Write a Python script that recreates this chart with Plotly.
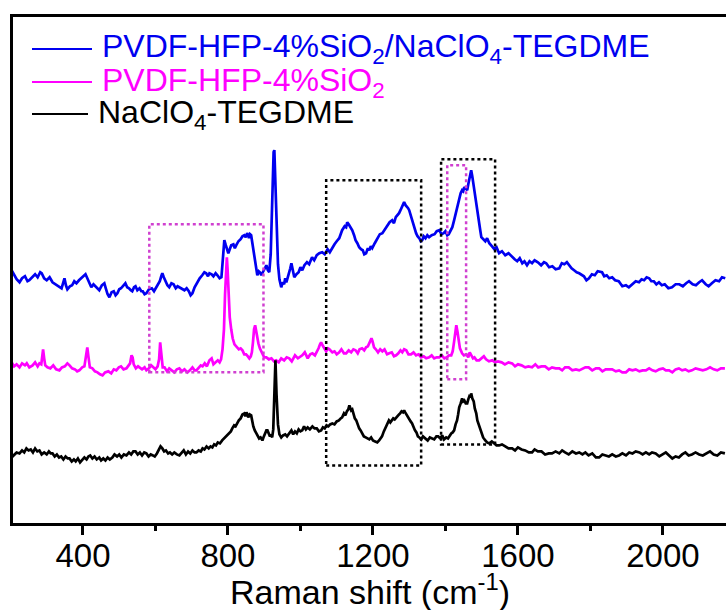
import plotly.graph_objects as go

# ---------------- data: Raman shift (cm-1) and offset intensity (a.u.) ----------------
blue_x = [203, 210, 217, 225, 232, 240, 247, 252, 260, 268, 275, 282, 286, 293, 300, 308, 316, 325,
          333, 341, 345, 349, 353, 357, 364, 370, 376, 382, 389, 395, 401, 407, 412, 417, 423, 429,
          435, 440, 445, 452, 459, 463, 468, 473, 479, 485, 490, 495, 500, 505, 511, 517, 522, 527,
          532, 536, 541, 545, 550, 556, 561, 565, 570, 575, 582, 590, 596, 603, 608, 612, 616, 619,
          623, 628, 633, 638, 644, 650, 656, 661, 666, 673, 680, 686, 692, 697, 702, 708, 715, 722,
          729, 735, 740, 745, 749, 755, 760, 766, 771, 777, 782, 786, 790, 794, 797, 801, 804, 809,
          815, 819, 823, 829, 835, 840, 845, 849, 853, 856, 858, 861, 864, 868, 872, 876, 881, 885,
          888, 892, 895, 899, 902, 906, 910, 914, 918, 922, 926, 928, 931, 934, 938, 942, 947, 951,
          955, 958, 961, 965, 968, 972, 975, 979, 983, 989, 995, 1000, 1005, 1011, 1018, 1024, 1032,
          1038, 1045, 1052, 1060, 1067, 1075, 1081, 1088, 1094, 1100, 1107, 1115, 1122, 1126, 1129,
          1133, 1136, 1140, 1143, 1148, 1152, 1157, 1162, 1167, 1172, 1176, 1181, 1186, 1190, 1194,
          1198, 1205, 1212, 1219, 1226, 1233, 1240, 1246, 1253, 1258, 1263, 1268, 1272, 1276, 1280,
          1283, 1286, 1290, 1293, 1297, 1300, 1305, 1310, 1314, 1319, 1323, 1328, 1332, 1336, 1340,
          1345, 1350, 1355, 1362, 1370, 1376, 1383, 1389, 1395, 1400, 1405, 1409, 1412, 1416, 1419,
          1424, 1428, 1433, 1438, 1442, 1446, 1449, 1452, 1456, 1460, 1463, 1466, 1469, 1471, 1474,
          1477, 1481, 1485, 1489, 1492, 1496, 1499, 1504, 1510, 1515, 1521, 1528, 1535, 1541, 1548,
          1556, 1565, 1574, 1584, 1591, 1598, 1605, 1612, 1618, 1625, 1632, 1639, 1646, 1655, 1664,
          1672, 1678, 1686, 1695, 1704, 1714, 1721, 1728, 1735, 1741, 1748, 1755, 1762, 1769, 1776,
          1782, 1789, 1796, 1804, 1812, 1820, 1832, 1838, 1845, 1852, 1860, 1868, 1878, 1888, 1898,
          1906, 1915, 1925, 1934, 1941, 1948, 1955, 1962, 1968, 1975, 1982, 1989, 1997, 2005, 2015,
          2025, 2035, 2045, 2055, 2064, 2072, 2082, 2091, 2100, 2108, 2118, 2126, 2135, 2145, 2155,
          2163, 2172]
blue_y = [254, 249, 245, 242, 246, 248, 243, 244, 247, 250, 247, 252, 251, 246, 244, 247, 242, 240,
          238, 236, 241, 246, 239, 235, 238, 239, 243, 241, 244, 246, 249, 250, 246, 242, 237, 240,
          238, 236, 234, 239, 241, 236, 230, 227, 232, 233, 229, 231, 235, 236, 239, 241, 237, 236,
          234, 233, 237, 238, 234, 236, 233, 233, 230, 231, 235, 236, 233, 237, 240, 243, 248, 251,
          247, 243, 239, 237, 241, 240, 236, 238, 237, 235, 234, 236, 233, 229, 231, 237, 242, 246,
          249, 252, 251, 248, 251, 250, 248, 251, 249, 246, 247, 262, 284, 279, 276, 271, 274, 279,
          280, 276, 279, 283, 285, 288, 289, 287, 291, 289, 286, 290, 289, 280, 270, 258, 249, 253,
          252, 249, 251, 255, 256, 259, 254, 252, 270, 330, 372, 374, 340, 300, 260, 245, 237, 242,
          240, 246, 242, 247, 250, 256, 261, 252, 247, 250, 252, 257, 254, 259, 262, 260, 267,
          264, 269, 271, 272, 270, 275, 272, 277, 280, 283, 286, 294, 298, 297, 302,
          300, 298, 296, 294, 289, 284, 281, 277, 275, 274, 270, 271, 276, 274, 278,
          276, 281, 285, 290, 291, 295, 298, 302, 304, 301, 307, 309, 311, 314, 318,
          321, 322, 319, 318, 316, 314, 308, 302, 296, 291, 288, 286, 283, 284, 288,
          286, 289, 287, 289, 290, 293, 294, 290, 291, 293, 289, 290, 292, 295, 297,
          304, 310, 320, 327, 331, 334, 333, 337, 335, 334, 340, 345, 350, 354, 348,
          340, 332, 324, 313, 305, 294, 287, 285, 283, 286, 281, 278, 275, 277, 271,
          273, 269, 271, 267, 265, 263, 266, 261, 263, 259, 263, 261, 264, 262, 259,
          262, 261, 257, 258, 255, 256, 261, 260, 262, 259, 256, 254, 252, 251, 249,
          248, 244, 246, 250, 249, 253, 252, 248, 249, 246, 247, 244, 243, 238, 239,
          237, 240, 243, 242, 245, 244, 247, 246, 243, 243, 240, 242, 239, 240, 236,
          237, 240, 240, 238, 241, 243, 240, 239, 242, 244, 240, 238, 241, 244, 243,
          247, 246]

pink_x = [203, 210, 217, 225, 232, 240, 245, 252, 261, 268, 275, 280, 285, 288, 290, 293, 296, 302,
          310, 318, 326, 335, 342, 350, 357, 363, 370, 378, 384, 390, 398, 404, 408, 412, 415, 419,
          426, 433, 440, 447, 454, 461, 470, 478, 485, 492, 499, 505, 512, 520, 526, 530, 534, 537,
          540, 546, 552, 556, 563, 570, 575, 582, 588, 594, 600, 606, 610, 613, 616, 620, 625, 632,
          638, 645, 652, 659, 666, 673, 680, 688, 695, 702, 708, 713, 719, 725, 730, 736, 742, 749,
          755, 760, 766, 772, 777, 781, 785, 789, 792, 795, 797, 799, 802, 805, 809, 813, 818, 824,
          830, 835, 840, 845, 850, 855, 859, 863, 866, 869, 872, 875, 878, 881, 884, 888, 893, 900,
          906, 913, 920, 927, 933, 940, 947, 955, 962, 969, 976, 985, 993, 1000, 1005, 1012, 1020,
          1027, 1033, 1040, 1045, 1050, 1054, 1057, 1061, 1065, 1071, 1076, 1080, 1088, 1094, 1100,
          1107, 1113, 1120, 1126, 1133, 1140, 1146, 1152, 1158, 1163, 1170, 1176, 1181, 1186, 1192,
          1196, 1199, 1203, 1208, 1214, 1220, 1226, 1232, 1239, 1245, 1252, 1258, 1264, 1270, 1276,
          1281, 1286, 1292, 1298, 1305, 1312, 1319, 1326, 1333, 1340, 1347, 1355, 1362, 1369, 1376,
          1383, 1390, 1397, 1404, 1410, 1416, 1420, 1424, 1427, 1430, 1433, 1436, 1440, 1446, 1451,
          1458, 1463, 1467, 1471, 1476, 1480, 1486, 1493, 1500, 1506, 1512, 1520, 1529, 1537, 1545,
          1555, 1564, 1574, 1584, 1592, 1600, 1610, 1620, 1629, 1639, 1648, 1656, 1665, 1675, 1685,
          1694, 1704, 1714, 1722, 1730, 1740, 1750, 1760, 1769, 1778, 1786, 1795, 1805, 1815, 1824,
          1833, 1842, 1851, 1860, 1870, 1879, 1888, 1898, 1907, 1916, 1925, 1935, 1944, 1953, 1962,
          1971, 1980, 1990, 2000, 2008, 2017, 2026, 2035, 2044, 2053, 2062, 2071, 2080, 2090, 2100,
          2110, 2120, 2130, 2140, 2150, 2160, 2171]
pink_y = [162, 158, 160, 157, 161, 159, 161, 157, 159, 162, 158, 161, 160, 168, 175, 166, 159, 157,
          156, 159, 155, 154, 157, 158, 161, 159, 156, 155, 153, 154, 157, 158, 166, 177, 168, 157,
          156, 153, 152, 150, 149, 152, 153, 151, 155, 154, 157, 158, 155, 156, 159, 161, 169, 167,
          160, 156, 158, 157, 155, 157, 154, 156, 159, 157, 155, 158, 165, 182, 170, 157, 157, 153,
          156, 154, 152, 155, 156, 153, 155, 152, 154, 157, 154, 154, 156, 159, 158, 161, 158, 164,
          166, 160, 162, 164, 162, 165, 175, 195, 230, 262, 267, 255, 232, 207, 195, 186, 180, 177,
          175, 176, 174, 170, 170, 168, 166, 168, 172, 182, 195, 199, 192, 184, 181, 176, 172, 167,
          167, 165, 166, 163, 164, 162, 166, 164, 167, 166, 163, 169, 166, 168, 169, 172, 166,
          170, 171, 169, 172, 176, 180, 182, 179, 177, 173, 176, 175, 172, 173, 170,
          172, 175, 171, 171, 174, 172, 175, 174, 171, 175, 176, 174, 177, 178, 182,
          186, 183, 177, 175, 172, 175, 173, 175, 170, 171, 172, 168, 169, 171, 174,
          172, 175, 174, 170, 170, 172, 169, 170, 167, 168, 166, 167, 169, 166, 167,
          167, 169, 166, 167, 169, 169, 173, 183, 193, 199, 193, 183, 176, 171, 169,
          170, 167, 172, 169, 166, 167, 164, 164, 166, 168, 165, 163, 164, 162, 163,
          162, 160, 162, 161, 158, 160, 159, 157, 158, 157, 160, 157, 158, 158, 155,
          157, 156, 156, 154, 157, 157, 154, 155, 154, 156, 157, 157, 154, 156, 156,
          153, 155, 155, 155, 153, 154, 152, 152, 155, 154, 155, 153, 154, 154, 156,
          154, 153, 155, 156, 154, 154, 152, 155, 156, 154, 155, 153, 154, 156, 155,
          154, 155, 157, 155, 154, 156, 156]

black_x = [203, 210, 217, 225, 232, 238, 244, 250, 256, 262, 268, 274, 280, 286, 293, 300, 306, 311,
           316, 322, 328, 334, 340, 346, 352, 358, 363, 369, 375, 380, 386, 392, 398, 404, 410, 415,
           420, 426, 432, 438, 445, 450, 456, 462, 468, 474, 481, 487, 494, 500, 506, 513, 520, 527,
           533, 539, 545, 551, 557, 563, 569, 575, 581, 587, 593, 598, 604, 609, 614, 619, 624, 629,
           635, 640, 646, 652, 659, 666, 672, 678, 684, 690, 696, 702, 708, 713, 719, 725, 730, 735,
           741, 747, 752, 757, 762, 767, 772, 778, 784, 789, 794, 798, 803, 808, 812, 817, 821, 826,
           830, 835, 840, 845, 848, 851, 854, 856, 860, 864, 867, 870, 874, 878, 882, 886, 890, 895,
           899, 902, 906, 909, 913, 916, 919, 922, 925, 928, 931, 934, 938, 942, 947, 952, 958, 963,
           969, 975, 980, 985, 990, 995, 1000, 1005, 1010, 1015, 1020, 1026, 1033, 1039, 1045, 1051,
           1057, 1062, 1067, 1072, 1077, 1082, 1088, 1094, 1100, 1106, 1111, 1115, 1120, 1124, 1128,
           1132, 1135, 1137, 1140, 1143, 1146, 1150, 1154, 1158, 1162, 1166, 1170, 1175, 1180, 1185,
           1190, 1195, 1200, 1206, 1212, 1217, 1221, 1225, 1230, 1235, 1239, 1244, 1248, 1252, 1256,
           1260, 1264, 1268, 1272, 1275, 1279, 1283, 1286, 1289, 1292, 1296, 1300, 1304, 1308, 1312,
           1316, 1320, 1324, 1328, 1333, 1338, 1345, 1351, 1357, 1363, 1369, 1375, 1380, 1386, 1391,
           1396, 1402, 1407, 1412, 1416, 1420, 1424, 1428, 1432, 1435, 1438, 1442, 1446, 1449, 1452,
           1456, 1460, 1463, 1466, 1469, 1471, 1474, 1478, 1481, 1485, 1488, 1492, 1495, 1499, 1504,
           1510, 1515, 1521, 1528, 1535, 1541, 1548, 1556, 1565, 1574, 1584, 1592, 1600, 1610, 1620,
           1630, 1639, 1646, 1655, 1665, 1675, 1685, 1694, 1704, 1714, 1722, 1730, 1740, 1750, 1760,
           1769, 1778, 1786, 1795, 1805, 1815, 1824, 1833, 1842, 1851, 1860, 1870, 1879, 1888, 1898,
           1907, 1916, 1925, 1935, 1944, 1953, 1962, 1970, 1980, 1990, 2000, 2008, 2017, 2026, 2035,
           2044, 2053, 2062, 2071, 2080, 2090, 2100, 2110, 2119, 2130, 2140, 2150, 2160, 2171]
black_y = [67, 70, 72, 71, 74, 72, 76, 74, 75, 72, 76, 73, 74, 70, 72, 70, 73, 71,
           71, 68, 70, 67, 68, 65, 68, 66, 66, 63, 65, 63, 66, 62, 64, 67, 65, 68,
           69, 66, 68, 65, 67, 64, 66, 64, 67, 65, 67, 70, 68, 70, 67, 70, 69, 72,
           70, 73, 73, 70, 72, 69, 72, 71, 68, 70, 69, 68, 71, 74, 78, 76, 73, 74,
           71, 72, 70, 72, 70, 69, 71, 74, 70, 73, 71, 74, 72, 72, 74, 73, 76, 75,
           78, 76, 78, 77, 80, 79, 82, 81, 84, 86, 88, 89, 92, 93, 96, 99, 98, 102,
           104, 106, 110, 111, 108, 112, 110, 107, 110, 109, 103, 98, 94, 91, 89, 86, 87, 84,
           88, 90, 94, 94, 91, 88, 90, 87, 95, 140, 164, 130, 100, 90, 87, 89, 90, 88,
           91, 94, 90, 93, 91, 95, 93, 94, 98, 95, 97, 95, 98, 96, 96, 93,
           94, 97, 96, 99, 98, 100, 101, 100, 103, 104, 106, 107, 111, 109, 113,
           115, 119, 117, 114, 115, 110, 106, 104, 99, 96, 94, 91, 88, 87, 86,
           85, 87, 84, 83, 82, 84, 86, 88, 93, 97, 101, 104, 102, 104, 106,
           105, 107, 109, 110, 111, 113, 112, 114, 112, 110, 108, 105, 103, 101, 97,
           94, 92, 88, 87, 85, 88, 86, 84, 87, 86, 85, 88, 88, 86, 89,
           85, 87, 86, 89, 91, 92, 94, 100, 104, 110, 117, 121, 126, 123, 124,
           121, 121, 125, 128, 127, 131, 126, 123, 116, 111, 104, 100, 96, 91, 87,
           84, 82, 81, 83, 81, 79, 79, 80, 78, 76, 76, 74, 77, 75, 74,
           72, 72, 75, 73, 73, 70, 71, 71, 73, 71, 74, 72, 70, 73, 71,
           72, 70, 72, 69, 71, 67, 67, 70, 69, 68, 70, 68, 69, 71, 69,
           72, 71, 73, 72, 70, 72, 70, 72, 71, 68, 70, 72, 69, 66, 68,
           67, 70, 72, 69, 70, 72, 70, 69, 71, 73, 70, 69, 72, 71]

legend_names = ["PVDF-HFP-4%SiO<sub>2</sub>/NaClO<sub>4</sub>-TEGDME",
                "PVDF-HFP-4%SiO<sub>2</sub>",
                "NaClO<sub>4</sub>-TEGDME"]
colors = ["#0000F0", "#FF00FF", "#000000"]

# highlighted regions: (x0, x1, y0, y1, color)
boxes = [(583, 898, 152, 300, "#D040D0"),
         (1405, 1457, 145, 359, "#D040D0"),
         (1071, 1333, 59, 344, "#000000"),
         (1388, 1537, 80, 365, "#000000")]

x_ticks = [400, 800, 1200, 1600, 2000]
x_minor = [600, 1000, 1400, 1800]

# ---------------- layout geometry ----------------
W_FIG, H_FIG = 726, 610
L, R, T, B = 13, 0, 17, 87
PW, PH = W_FIG - L - R, H_FIG - T - B
FONT = "Arial, Liberation Sans, sans-serif"


def px(x):
    return (x - L) / PW


def py(y):
    return (T + PH - y) / PH


fig = go.Figure()
for xs, ys, name, c in [(blue_x, blue_y, legend_names[0], colors[0]),
                        (pink_x, pink_y, legend_names[1], colors[1]),
                        (black_x, black_y, legend_names[2], colors[2])]:
    fig.add_trace(go.Scatter(x=xs, y=ys, mode="lines", name=name,
                             line=dict(color=c, width=2.7), showlegend=False))

for x0, x1, y0, y1, c in boxes:
    fig.add_shape(type="rect", xref="x", yref="y", x0=x0, x1=x1, y0=y0, y1=y1,
                  line=dict(color=c, width=2.5, dash="dot"))

# manual legend (line sample + label)
leg_rows = [(49, 32, 92, 100), (82, 32, 92, 100), (114, 32, 88, 96)]
for (yy, lx0, lx1, tx), name, c in zip(leg_rows, legend_names, colors):
    fig.add_shape(type="line", xref="paper", yref="paper", x0=px(lx0), x1=px(lx1),
                  y0=py(yy), y1=py(yy), line=dict(color=c, width=2))
    fig.add_annotation(xref="paper", yref="paper", x=px(tx), y=py(yy), text=name,
                       showarrow=False, xanchor="left", yanchor="middle",
                       font=dict(family=FONT, size=32, color=c))

# axis title
fig.add_annotation(xref="paper", yref="paper", x=0.5, y=py(612), yanchor="bottom",
                   xanchor="center", showarrow=False, borderpad=0,
                   text="Raman shift (cm<sup>-1</sup>)",
                   font=dict(family=FONT, size=34, color="black"))

fig.update_layout(
    width=W_FIG, height=H_FIG,
    margin=dict(l=L, r=R, t=T, b=B, pad=0),
    paper_bgcolor="white", plot_bgcolor="white",
    font=dict(family=FONT, color="black"),
    showlegend=False,
)
fig.update_xaxes(range=[207, 2174], showgrid=False, zeroline=False,
                 showline=True, linecolor="black", linewidth=3, mirror=True,
                 tickmode="array", tickvals=x_ticks, ticks="outside", ticklen=9,
                 tickwidth=2.5, tickcolor="black", ticklabelstandoff=-8,
                 tickfont=dict(family=FONT, size=33, color="black"),
                 minor=dict(tickmode="array", tickvals=x_minor,
                            ticks="outside", ticklen=5, tickwidth=2.5, tickcolor="black"))
fig.update_yaxes(range=[1.5, 507], showgrid=False, zeroline=False,
                 showline=True, linecolor="black", linewidth=3, mirror=False,
                 showticklabels=False, ticks="")

fig.write_html("out.html")
